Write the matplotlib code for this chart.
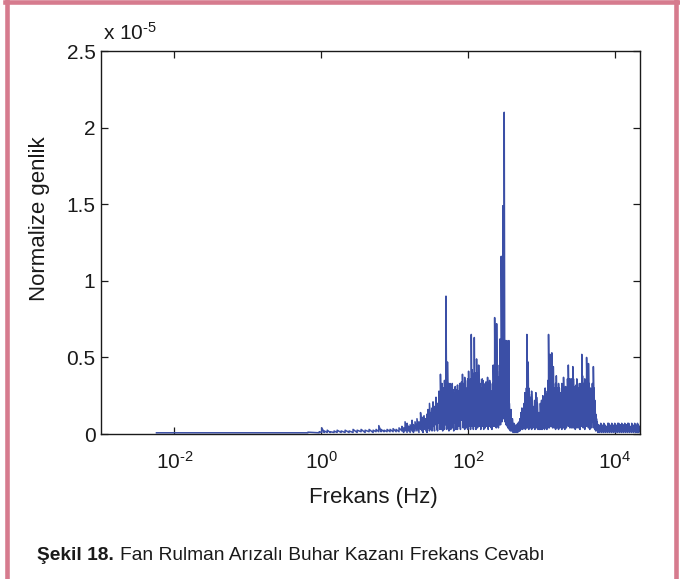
import numpy as np
import matplotlib
matplotlib.use("Agg")
import matplotlib.pyplot as plt
from matplotlib.lines import Line2D
from matplotlib.ticker import FixedLocator, FuncFormatter, NullLocator

plt.rcParams['font.family'] = ['Liberation Sans', 'DejaVu Sans']
plt.rcParams['mathtext.fontset'] = 'custom'
plt.rcParams['mathtext.rm'] = 'Liberation Sans'
plt.rcParams['mathtext.it'] = 'Liberation Sans:italic'
plt.rcParams['mathtext.bf'] = 'Liberation Sans:bold'
plt.rcParams['axes.unicode_minus'] = False

# spectrum: frequency (Hz), spike top and spike foot (x 1e-5)
spec_hz = [
    0.0057, 0.66, 0.94, 1.02, 1.10, 1.21, 1.33, 1.50, 1.65, 1.87,
    2.12, 2.40, 2.72, 3.09, 3.50, 3.97, 4.50, 5.10, 5.60, 6.10,
    6.55, 7.19, 7.91, 8.68, 9.55, 10.5, 11.5,
    12.6, 13.3, 13.9, 14.8, 15.5, 16.3, 17.3, 18.1, 19.0, 20.2,
    21.5, 22.6, 23.7, 24.4, 25.2, 26.8, 27.7, 28.6, 29.9, 31.4,
    32.4, 33.4, 35.0, 36.7, 37.6, 38.5, 40.3, 41.2, 42.2, 43.3,
    44.3, 45.3, 46.4, 47.9, 49.0, 50.2, 51.4, 52.6, 53.8, 55.1,
    56.9, 58.3, 59.7, 61.1, 62.5, 64.0, 65.5, 67.1, 68.7, 70.3,
    72.0, 73.7, 75.4, 77.2, 79.0, 81.5, 84.2, 86.2, 88.2, 90.3,
    92.4, 94.6, 96.9, 99.3, 102, 104, 106, 108.5, 111, 113,
    115, 118.5, 122, 124, 126, 128.5, 131, 135, 140, 143,
    146, 149.5, 153, 156.5, 160, 164, 168, 172, 176, 180.5,
    185, 189, 193, 197.5, 202, 207, 212, 216.5, 221, 226,
    231, 235.5, 240, 243, 246, 251, 256, 260, 264, 268,
    272, 278, 284, 291, 299, 305, 312, 318, 324, 331,
    339, 344.5, 350, 355.5, 361, 366.5, 372, 378.5, 385, 394,
    403, 413, 423, 433, 443, 453.5, 464, 475.5, 487, 498.5,
    510, 526, 543, 556, 569, 583, 597, 606, 616, 625.5,
    635, 648, 661, 674, 687, 703, 720, 737, 754, 772,
    791, 816, 842, 862, 882, 903, 925, 947, 969, 987,
    1006, 1027, 1048, 1064, 1080, 1103, 1127, 1148, 1170, 1188,
    1206, 1229, 1253, 1285, 1318, 1353, 1390, 1422, 1456, 1491,
    1527, 1563, 1600, 1638, 1677, 1716, 1757, 1800, 1842, 1900,
    1953, 2006, 2047, 2089, 2140, 2190, 2270, 2330, 2386, 2443,
    2500, 2560, 2620, 2683, 2738, 2794, 2846, 2900, 2970, 3041,
    3115, 3190, 3280, 3360, 3446, 3556, 3640, 3725, 3815, 3905,
    4020, 4133, 4260, 4385, 4475, 4569, 4680, 4787, 4950, 5114,
    5230, 5345, 5420, 5500, 5640, 5770, 5910, 6056, 6250, 6450,
    6660, 6873, 7090, 7310, 7540, 7780, 8030, 8280, 8550, 8830,
    9110, 9400, 9700, 10000, 10320, 10640, 10980, 11330, 11700, 12070,
    12450, 12840, 13250, 13680, 14110, 14560, 15020, 15500, 16000, 16520,
    17040, 17580, 18140, 18710, 19310, 19920, 20400, 20890, 21250, 21600,
]
spec_peak = [
    0.008, 0.012, 0.015, 0.04, 0.02, 0.025, 0.015, 0.02, 0.025, 0.02,
    0.025, 0.02, 0.03, 0.025, 0.03, 0.025, 0.03, 0.025, 0.03, 0.055,
    0.03, 0.025, 0.03, 0.03, 0.035, 0.03, 0.04,
    0.05, 0.04, 0.08, 0.07, 0.05, 0.06, 0.09, 0.06, 0.08, 0.10,
    0.08, 0.14, 0.09, 0.11, 0.12, 0.10, 0.13, 0.16, 0.20, 0.14,
    0.17, 0.21, 0.18, 0.24, 0.17, 0.20, 0.28, 0.24, 0.39, 0.27,
    0.33, 0.28, 0.30, 0.35, 0.31, 0.90, 0.36, 0.47, 0.33, 0.25,
    0.33, 0.30, 0.29, 0.33, 0.29, 0.27, 0.20, 0.31, 0.29, 0.25,
    0.32, 0.28, 0.26, 0.33, 0.30, 0.34, 0.39, 0.31, 0.33, 0.37,
    0.35, 0.29, 0.30, 0.36, 0.41, 0.33, 0.28, 0.36, 0.65, 0.42,
    0.40, 0.34, 0.63, 0.40, 0.38, 0.31, 0.49, 0.40, 0.45, 0.36,
    0.33, 0.29, 0.30, 0.36, 0.35, 0.30, 0.28, 0.33, 0.34, 0.31,
    0.37, 0.33, 0.30, 0.35, 0.33, 0.28, 0.25, 0.33, 0.45, 0.38,
    0.76, 0.45, 0.37, 0.50, 0.72, 0.41, 0.30, 0.34, 0.37, 0.45,
    0.62, 0.48, 1.16, 0.70, 1.49, 0.90, 2.10, 0.55, 0.61, 0.45,
    0.61, 0.38, 0.25, 0.42, 0.61, 0.20, 0.12, 0.10, 0.16, 0.09,
    0.10, 0.06, 0.07, 0.05, 0.05, 0.06, 0.05, 0.07, 0.06, 0.08,
    0.10, 0.14, 0.17, 0.15, 0.12, 0.20, 0.27, 0.22, 0.25, 0.30,
    0.65, 0.40, 0.47, 0.30, 0.26, 0.24, 0.23, 0.28, 0.22, 0.18,
    0.15, 0.22, 0.27, 0.24, 0.20, 0.14, 0.08, 0.14, 0.20, 0.16,
    0.22, 0.19, 0.25, 0.21, 0.18, 0.24, 0.30, 0.26, 0.20, 0.24,
    0.28, 0.35, 0.65, 0.48, 0.52, 0.40, 0.53, 0.38, 0.44, 0.30,
    0.24, 0.33, 0.38, 0.30, 0.26, 0.33, 0.30, 0.27, 0.23, 0.33,
    0.30, 0.37, 0.30, 0.26, 0.31, 0.28, 0.36, 0.45, 0.33, 0.36,
    0.30, 0.36, 0.32, 0.44, 0.36, 0.31, 0.28, 0.25, 0.32, 0.36,
    0.33, 0.30, 0.25, 0.33, 0.30, 0.52, 0.38, 0.33, 0.30, 0.36,
    0.33, 0.50, 0.36, 0.46, 0.33, 0.28, 0.30, 0.26, 0.33, 0.44,
    0.30, 0.22, 0.16, 0.13, 0.10, 0.08, 0.06, 0.06, 0.05, 0.07,
    0.06, 0.05, 0.07, 0.06, 0.05, 0.05, 0.07, 0.07, 0.06, 0.05,
    0.07, 0.06, 0.05, 0.07, 0.06, 0.05, 0.07, 0.07, 0.06, 0.06,
    0.07, 0.05, 0.06, 0.07, 0.06, 0.06, 0.07, 0.07, 0.05, 0.05,
    0.07, 0.06, 0.05, 0.07, 0.06, 0.05, 0.07, 0.06, 0.05, 0.05,
]
spec_foot = [
    0.008, 0.008, 0.008, 0.01, 0.01, 0.01, 0.01, 0.01, 0.01, 0.01,
    0.01, 0.01, 0.01, 0.01, 0.015, 0.01, 0.015, 0.01, 0.015, 0.015,
    0.015, 0.015, 0.015, 0.015, 0.015, 0.015, 0.015,
    0.02, 0.01, 0.02, 0.01, 0.02, 0.01, 0.02, 0.01, 0.02, 0.02,
    0.01, 0.03, 0.02, 0.01, 0.03, 0.02, 0.01, 0.04, 0.02, 0.03,
    0.02, 0.05, 0.02, 0.06, 0.03, 0.02, 0.07, 0.03, 0.08, 0.03,
    0.06, 0.02, 0.08, 0.03, 0.06, 0.10, 0.03, 0.09, 0.04, 0.02,
    0.08, 0.03, 0.10, 0.04, 0.09, 0.02, 0.07, 0.11, 0.03, 0.08,
    0.03, 0.10, 0.05, 0.12, 0.03, 0.09, 0.12, 0.04, 0.10, 0.03,
    0.11, 0.04, 0.09, 0.03, 0.12, 0.05, 0.10, 0.03, 0.13, 0.05,
    0.11, 0.03, 0.12, 0.05, 0.10, 0.03, 0.12, 0.04, 0.11, 0.05,
    0.10, 0.03, 0.12, 0.05, 0.11, 0.03, 0.10, 0.04, 0.12, 0.05,
    0.11, 0.03, 0.12, 0.05, 0.10, 0.04, 0.03, 0.11, 0.13, 0.05,
    0.13, 0.05, 0.11, 0.04, 0.14, 0.05, 0.10, 0.04, 0.12, 0.06,
    0.14, 0.06, 0.16, 0.08, 0.18, 0.10, 0.20, 0.08, 0.12, 0.06,
    0.10, 0.05, 0.04, 0.07, 0.06, 0.03, 0.03, 0.02, 0.03, 0.02,
    0.02, 0.01, 0.02, 0.01, 0.02, 0.01, 0.02, 0.01, 0.02, 0.02,
    0.02, 0.03, 0.05, 0.03, 0.06, 0.04, 0.08, 0.03, 0.09, 0.04,
    0.10, 0.04, 0.09, 0.03, 0.08, 0.04, 0.09, 0.03, 0.08, 0.04,
    0.06, 0.03, 0.08, 0.04, 0.07, 0.03, 0.04, 0.03, 0.07, 0.03,
    0.08, 0.03, 0.09, 0.04, 0.07, 0.03, 0.09, 0.04, 0.08, 0.03,
    0.09, 0.04, 0.10, 0.04, 0.11, 0.05, 0.10, 0.04, 0.09, 0.04,
    0.08, 0.03, 0.10, 0.04, 0.08, 0.03, 0.09, 0.04, 0.07, 0.03,
    0.09, 0.04, 0.10, 0.03, 0.09, 0.04, 0.10, 0.05, 0.11, 0.04,
    0.09, 0.04, 0.10, 0.04, 0.11, 0.04, 0.09, 0.03, 0.09, 0.04,
    0.10, 0.04, 0.08, 0.03, 0.09, 0.05, 0.11, 0.04, 0.09, 0.03,
    0.10, 0.05, 0.11, 0.04, 0.10, 0.03, 0.09, 0.04, 0.08, 0.04,
    0.07, 0.03, 0.05, 0.02, 0.03, 0.02, 0.01, 0.02, 0.01, 0.02,
    0.01, 0.02, 0.01, 0.02, 0.01, 0.02, 0.01, 0.02, 0.01, 0.02,
    0.01, 0.02, 0.01, 0.02, 0.01, 0.02, 0.01, 0.02, 0.01, 0.02,
    0.01, 0.02, 0.01, 0.02, 0.01, 0.02, 0.01, 0.02, 0.01, 0.02,
    0.01, 0.02, 0.01, 0.02, 0.01, 0.02, 0.01, 0.02, 0.01, 0.02,
]

x_ticks = [1e-2, 1e0, 1e2, 1e4]
y_ticks = [0, 0.5, 1, 1.5, 2, 2.5]

line_blue = '#3b4fa6'
frame_pink = '#d67b8e'
ink = '#1a1a1a'
HYPHEN = '\u2010'


def decade_label(v, pos):
    e = int(round(np.log10(v)))
    return '10$^{\\mathregular{%s}}$' % str(e).replace('-', HYPHEN)


fig = plt.figure(figsize=(6.8, 5.79), dpi=100)
ax = fig.add_axes([0.1485, 0.2504, 0.7926, 0.6615])

# each spike rises from its foot to its top
hz = np.repeat(np.array(spec_hz), 2)
amp = np.column_stack([spec_foot, spec_peak]).ravel()
ax.plot(hz, amp, color=line_blue, linewidth=1.1)

ax.set_xscale('log')
ax.set_xlim(1e-3, 22050)
ax.set_ylim(0, 2.5)
ax.xaxis.set_major_locator(FixedLocator(x_ticks))
ax.xaxis.set_minor_locator(NullLocator())
ax.xaxis.set_major_formatter(FuncFormatter(decade_label))
ax.yaxis.set_major_locator(FixedLocator(y_ticks))
ax.yaxis.set_major_formatter(FuncFormatter(lambda v, p: '%g' % v))

ax.tick_params(direction='in', top=True, right=True, length=5, width=0.9,
               color=ink, labelsize=15, labelcolor=ink)
ax.tick_params(axis='x', pad=12)
ax.tick_params(axis='y', pad=4)
for s in ax.spines.values():
    s.set_color(ink)
    s.set_linewidth(1.0)

ax.set_xlabel('Frekans (Hz)', fontsize=16, color=ink, va='center')
ax.xaxis.set_label_coords(0.5056, -0.1645)
ax.set_ylabel('Normalize genlik', fontsize=16, color=ink, va='center')
ax.yaxis.set_label_coords(-0.114, 0.561)

ax.text(0.004, 1.029, 'x 10$^{\\mathregular{%s5}}$' % HYPHEN,
        transform=ax.transAxes, fontsize=15, color=ink,
        ha='left', va='baseline')

# page frame
W, H = 680.0, 579.0
fw = 3.3
fig.add_artist(Line2D([7.2 / W, 7.2 / W], [0, 1], transform=fig.transFigure,
                      color=frame_pink, linewidth=fw))
fig.add_artist(Line2D([675.5 / W, 675.5 / W], [0, 1], transform=fig.transFigure,
                      color=frame_pink, linewidth=fw))
fig.add_artist(Line2D([5 / W, 678 / W], [1 - 1.6 / H, 1 - 1.6 / H],
                      transform=fig.transFigure, color=frame_pink, linewidth=fw))

# caption
cap_y = 18.5 / H
t1 = fig.text(37 / W, cap_y, 'Şekil 18.', fontsize=13.8, fontweight='bold',
              color=ink, ha='left', va='baseline')
fig.canvas.draw()
bb = t1.get_window_extent(renderer=fig.canvas.get_renderer())
fig.text((bb.x1 + 6) / W, cap_y, 'Fan Rulman Arızalı Buhar Kazanı Frekans Cevabı',
         fontsize=13.8, color=ink, ha='left', va='baseline')

fig.savefig('out.png', dpi=100)
